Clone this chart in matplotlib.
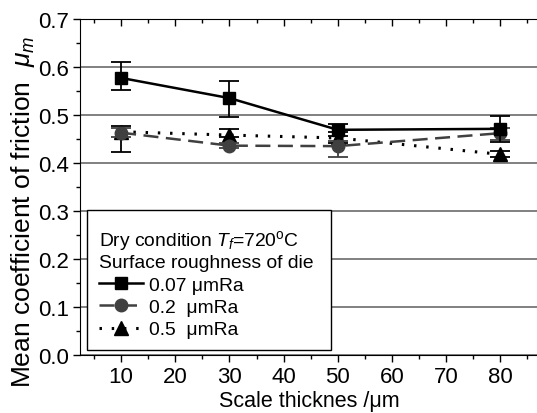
import matplotlib
matplotlib.use("Agg")
import matplotlib.pyplot as plt
from matplotlib.ticker import MultipleLocator, FormatStrFormatter
from matplotlib.offsetbox import DrawingArea

plt.rcParams['font.family'] = 'Liberation Sans'
plt.rcParams['mathtext.fontset'] = 'custom'
plt.rcParams['mathtext.rm'] = 'Liberation Sans'
plt.rcParams['mathtext.it'] = 'Liberation Sans:italic'

# scale thickness (um)
thick = [10, 30, 50, 80]

# 0.07 umRa
mu_007 = [0.577, 0.535, 0.469, 0.471]
lo_007 = [0.026, 0.040, 0.012, 0.027]
hi_007 = [0.034, 0.035, 0.012, 0.026]

# 0.2 umRa
mu_02 = [0.463, 0.436, 0.435, 0.462]
lo_02 = [0.010, 0.005, 0.022, 0.015]
hi_02 = [0.010, 0.005, 0.010, 0.010]

# 0.5 umRa
mu_05 = [0.465, 0.458, 0.452, 0.418]
lo_05 = [0.043, 0.005, 0.010, 0.006]
hi_05 = [0.011, 0.013, 0.012, 0.006]

labels = ['0.07 \u03bcmRa', '0.2  \u03bcmRa', '0.5  \u03bcmRa']

fig = plt.figure(figsize=(5.37, 4.14), dpi=100)
ax = fig.add_axes([0.149, 0.140, 0.853, 0.812])

err_kw = dict(capsize=7.5, elinewidth=1.3, capthick=1.3)
e1 = ax.errorbar(thick, mu_007, yerr=[lo_007, hi_007], color='black', marker='s',
                 ms=8.5, lw=1.8, zorder=5, **err_kw)
e2 = ax.errorbar(thick, mu_02, yerr=[lo_02, hi_02], color='#404040', marker='o',
                 ms=9, lw=1.8, ls=(0, (6, 3)), zorder=4, **err_kw)
e3 = ax.errorbar(thick, mu_05, yerr=[lo_05, hi_05], color='black', marker='^',
                 ms=9.5, lw=2.2, ls=(0, (0.8, 3.2)), zorder=3, **err_kw)

ax.set_xlim(2.4, 87)
ax.set_ylim(0.0, 0.7)
ax.set_xticks([10, 20, 30, 40, 50, 60, 70, 80])
ax.xaxis.set_minor_locator(MultipleLocator(5))
ax.yaxis.set_major_locator(MultipleLocator(0.1))
ax.yaxis.set_minor_locator(MultipleLocator(0.05))
ax.yaxis.set_major_formatter(FormatStrFormatter('%.1f'))

ax.tick_params(which='both', direction='out', top=True, right=True,
               labelsize=16, width=1, pad=3)
ax.tick_params(which='major', length=5)
ax.tick_params(which='minor', length=3)
# top and right ticks point inward
for t in ax.xaxis.get_ticklines()[1::2] + ax.xaxis.get_ticklines(minor=True)[1::2]:
    t.set_marker(3)
for t in ax.yaxis.get_ticklines()[1::2] + ax.yaxis.get_ticklines(minor=True)[1::2]:
    t.set_marker(1)

ax.grid(axis='y', which='major', color='#808080', lw=1.4, zorder=0)
ax.set_axisbelow(True)

ax.set_xlabel('Scale thicknes /\u03bcm', fontsize=15.5, labelpad=2)
ax.set_ylabel('Mean coefficient of friction  $\\mu_m$', fontsize=19)
ax.yaxis.set_label_coords(-0.093, 0.43)

leg = ax.legend([e1[0], e2[0], e3[0]], labels,
                loc='lower left', bbox_to_anchor=(0.0153, 0.015, 0.533, 0.4),
                mode='expand',
                title='Dry condition $T_f$=720$^\\mathrm{o}$C\nSurface roughness of die',
                fontsize=13.9, title_fontsize=13.9, alignment='left',
                fancybox=False, edgecolor='black', framealpha=1,
                handlelength=2.3, handletextpad=0.3, labelspacing=0.25,
                borderpad=0.6, borderaxespad=0)
leg.get_frame().set_linewidth(1.0)
# extra room above the title, as in the original box
leg._legend_box.get_children().insert(0, DrawingArea(1, 1))

fig.savefig('out.png', dpi=100)
